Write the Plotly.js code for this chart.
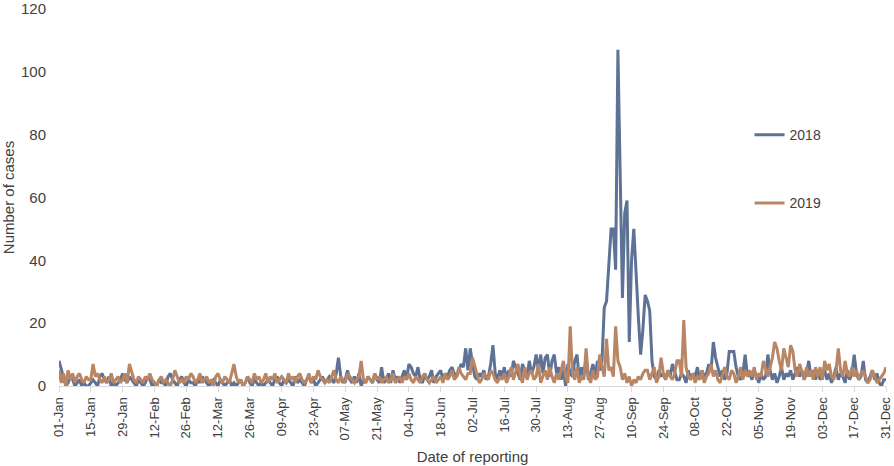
<!DOCTYPE html>
<html>
<head>
<meta charset="utf-8">
<script src="https://cdn.plot.ly/plotly-3.0.1.min.js"></script>
<style>
  html, body { margin: 0; padding: 0; background: #fff; }
  #chart { width: 894px; height: 466px; }
</style>
</head>
<body>
<div id="chart"></div>
<script>
// daily case counts, one array per month
const cases2018Jan = [8,5,2,0,1,3,2,0,1,2,0,1,0,0,1,2,1,0,3,4,2,1,3,0,1,0,1,2,4,2,1];
const cases2018Feb = [3,2,1,0,2,1,0,1,3,2,0,1,0,2,1,1,0,3,4,2,1,0,2,3,1,0,2,1];
const cases2018Mar = [1,0,2,1,3,2,1,0,1,2,1,0,2,1,0,1,2,0,1,0,1,2,0,1,3,1,0,2,1,0,1];
const cases2018Apr = [0,1,2,1,0,2,3,1,0,2,1,2,1,0,3,1,2,1,0,2,3,1,2,0,1,2,3,1,2,3];
const cases2018May = [2,1,4,9,3,1,2,5,2,1,3,1,4,0,2,1,3,2,1,4,2,1,6,1,2,4,1,5,2,3,1];
const cases2018Jun = [3,5,2,7,6,4,3,6,2,1,4,2,3,5,1,3,4,5,2,4,3,5,6,4,3,5,7,6,12,5];
const cases2018Jul = [12,7,3,2,4,3,5,2,3,7,13,4,2,5,3,6,2,5,3,8,6,4,2,7,5,3,8,4,6,10,5];
const cases2018Aug = [10,4,9,10,3,8,10,4,6,2,5,0,7,4,3,8,10,2,6,3,9,2,4,7,3,8,5,8,25,27,38];
const cases2018Sep = [50,50,37,107,60,28,55,59,14,40,50,35,22,10,18,29,27,24,8,3,2,5,3,4,2,5,3,7,4,2];
const cases2018Oct = [2,4,3,1,5,2,4,3,6,2,5,3,4,7,5,14,9,6,3,5,2,4,11,11,11,6,3,2,4,10,3];
const cases2018Nov = [4,2,5,3,1,4,2,3,10,5,2,4,1,3,6,2,4,3,5,2,4,6,3,5,2,4,8,3,5,2];
const cases2018Dec = [5,2,3,5,2,4,1,3,6,2,4,3,1,5,2,4,10,4,2,3,8,2,1,3,5,2,4,1,0,2,2];

const cases2019Jan = [5,1,4,0,5,2,4,1,3,4,2,1,3,2,2,7,3,4,2,1,3,1,2,4,1,2,3,1,2,4,1];
const cases2019Feb = [7,4,2,1,3,2,1,3,2,4,2,1,0,2,3,1,2,1,0,2,5,3,1,2,1,3,2,4];
const cases2019Mar = [3,1,2,4,1,2,3,1,2,0,3,4,2,1,3,2,1,4,7,3,1,2,0,1,3,2,1,4,2,3,1];
const cases2019Apr = [2,4,1,3,2,4,1,2,3,2,1,4,2,3,1,3,4,2,1,2,4,1,3,2,5,3,2,1,2,1];
const cases2019May = [3,5,2,1,3,2,1,4,3,2,1,2,3,8,2,1,3,2,1,4,2,3,1,2,3,1,2,4,1,2,3];
const cases2019Jun = [1,3,2,4,2,1,3,2,1,3,4,2,1,2,3,1,2,3,1,4,2,3,5,2,3,6,4,3,2,4];
const cases2019Jul = [4,9,6,3,1,2,4,3,2,5,4,2,1,3,2,4,1,3,6,2,5,7,3,1,6,2,4,5,2,3,7];
const cases2019Aug = [1,3,5,2,6,3,1,4,2,5,8,3,1,19,4,2,6,1,3,2,12,3,1,5,2,3,10,6,3,15,5];
const cases2019Sep = [6,3,19,8,6,2,4,1,3,0,2,1,3,2,4,5,5,2,4,6,1,3,9,4,2,5,3,2,4,8];
const cases2019Oct = [8,3,21,6,3,2,4,1,3,2,5,1,3,4,7,3,5,2,1,4,6,3,2,5,4,1,3,6,2,5,3];
const cases2019Nov = [5,3,6,2,4,3,8,5,3,6,9,14,12,8,5,12,9,6,13,11,5,3,7,4,2,6,3,5,2,6];
const cases2019Dec = [3,6,2,8,5,7,3,2,5,12,5,3,8,4,3,6,3,5,2,4,5,3,1,2,5,3,1,2,3,4,6];

const yTicks = [0, 20, 40, 60, 80, 100, 120];

const series2018 = [].concat(cases2018Jan, cases2018Feb, cases2018Mar, cases2018Apr,
  cases2018May, cases2018Jun, cases2018Jul, cases2018Aug, cases2018Sep,
  cases2018Oct, cases2018Nov, cases2018Dec);
const series2019 = [].concat(cases2019Jan, cases2019Feb, cases2019Mar, cases2019Apr,
  cases2019May, cases2019Jun, cases2019Jul, cases2019Aug, cases2019Sep,
  cases2019Oct, cases2019Nov, cases2019Dec);

// day-of-year dates (shared non-leap calendar so both years overlay)
const DAY = 86400000;
const start = Date.UTC(2019, 0, 1);
function dayDates(n) {
  const out = [];
  for (let i = 0; i < n; i++) {
    out.push(new Date(start + i * DAY).toISOString().slice(0, 10));
  }
  return out;
}

const font = "Liberation Sans, Arial, sans-serif";

Plotly.newPlot(
  "chart",
  [
    {
      x: dayDates(series2018.length),
      y: series2018,
      type: "scatter",
      mode: "lines",
      name: "2018",
      legendgroup: "a",
      line: { color: "#5e7296", width: 3 },
    },
    {
      x: dayDates(series2019.length),
      y: series2019,
      type: "scatter",
      mode: "lines",
      name: "2019",
      legendgroup: "b",
      line: { color: "#b88664", width: 3 },
    },
  ],
  {
    width: 894,
    height: 466,
    margin: { l: 59, r: 8, t: 9, b: 80 },
    paper_bgcolor: "#fff",
    plot_bgcolor: "#fff",
    font: { family: font, color: "#404040", size: 13 },
    showlegend: true,
    legend: {
      x: 0.835,
      y: 0.708,
      xanchor: "left",
      yanchor: "top",
      tracegroupgap: 47,
      font: { size: 14, color: "#404040" },
      bgcolor: "rgba(0,0,0,0)",
    },
    xaxis: {
      type: "date",
      range: ["2019-01-01", "2019-12-31"],
      tick0: "2019-01-01",
      dtick: 14 * DAY,
      tickformat: "%d-%b",
      tickangle: -90,
      ticks: "outside",
      ticklen: 5,
      tickcolor: "#d9d9d9",
      showline: true,
      linecolor: "#d9d9d9",
      linewidth: 1,
      showgrid: false,
      zeroline: false,
      ticklabeloverflow: "allow",
      tickfont: { size: 13, color: "#404040" },
      title: { text: "Date of reporting", font: { size: 15 }, standoff: 11 },
    },
    yaxis: {
      range: [0, 120],
      tickmode: "array",
      tickvals: yTicks,
      ticktext: yTicks.map(String),
      showgrid: false,
      zeroline: false,
      showline: false,
      ticks: "",
      ticklabelstandoff: 12,
      ticklabeloverflow: "allow",
      tickfont: { size: 15, color: "#404040" },
      title: { text: "Number of cases", font: { size: 15 }, standoff: 10 },
    },
  },
  { displayModeBar: false }
);
</script>
</body>
</html>
